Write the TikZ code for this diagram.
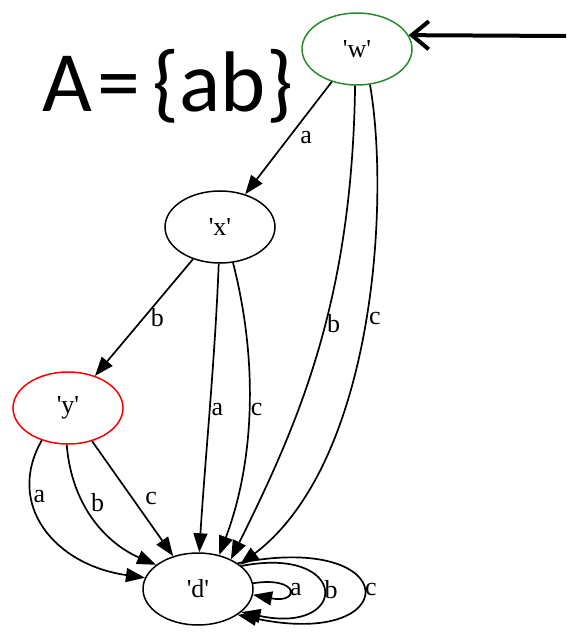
\documentclass[tikz,border=0pt]{standalone}
\usepackage{fontspec}
\setmainfont{Liberation Serif}[Ligatures=TeXOff]
\newfontfamily\setfont{Carlito}
\usetikzlibrary{shapes.geometric,arrows.meta}
\definecolor{startgreen}{RGB}{40,140,40}

\begin{document}
\begin{tikzpicture}[x=1pt,y=-1pt,
  state/.style={draw,ellipse,line width=1.5pt,minimum width=110pt,minimum height=72pt,inner sep=0pt,font=\fontsize{26}{26}\selectfont},
  edge/.style={line width=1.7pt,-{Triangle[length=19pt,width=14pt]}},
  lbl/.style={font=\fontsize{26}{26}\selectfont,inner sep=1pt},
  init/.style={line width=4pt,-{Straight Barb[length=17pt,width=28pt]}}]
\useasboundingbox (0,0) rectangle (568,636);
%\draw[step=50,very thin,color=gray] (0,0) grid (568,636);
\node[state,draw=startgreen] (w) at (357,49) {'w'};
\node[state] (x) at (220,227) {'x'};
\node[state,draw=red] (y) at (68,408) {'y'};
\node[state] (d) at (198,589) {'d'};
\node[anchor=base west,inner sep=0pt,font=\setfont\fontsize{86}{86}\selectfont] (set) at (42,112) {A\hspace{6pt}=\hspace{12pt}\{ab\}};
\coordinate (start) at (566,36);
\draw[init] (start) -- (w.15);
% from 'w'
\draw[edge] (w) -- node[lbl,right=10pt] {a} (x);
\draw[edge] (w.267) .. controls (352,300) and (300,420) .. node[lbl,pos=.44,right] {b} (d.42);
\draw[edge] (w.290) .. controls (390,200) and (375,462) .. node[lbl,pos=.48,right=2pt] {c} (d.30);
% from 'x'
\draw[edge] (x) -- node[lbl,right=5pt] {b} (y);
\draw[edge] (x.268) .. controls (215,360) and (205,460) .. node[lbl,right] {a} (d.88);
\draw[edge] (x.290) .. controls (258,360) and (255,460) .. node[lbl,right] {c} (d.58);
% from 'y'
\draw[edge] (y.231) .. controls (5,505) and (55,565) .. node[lbl,pos=.3,right=1pt] {a} (d.168);
\draw[edge] (y.268) .. controls (72,510) and (110,545) .. node[lbl,pos=.35,right=6pt] {b} (d.150);
\draw[edge] (y.306) -- node[lbl,right=11pt] {c} (d.127);
% loops on 'd'
\draw[edge] (d.6) .. controls (300,576) and (300,604) .. node[lbl,right] {a} (d.-6);
\draw[edge] (d.28) .. controls (350,545) and (350,635) .. node[lbl,right] {b} (d.-28);
\draw[edge] (d.33) .. controls (405,530) and (405,650) .. node[lbl,right] {c} (d.-33);
\end{tikzpicture}
\end{document}
